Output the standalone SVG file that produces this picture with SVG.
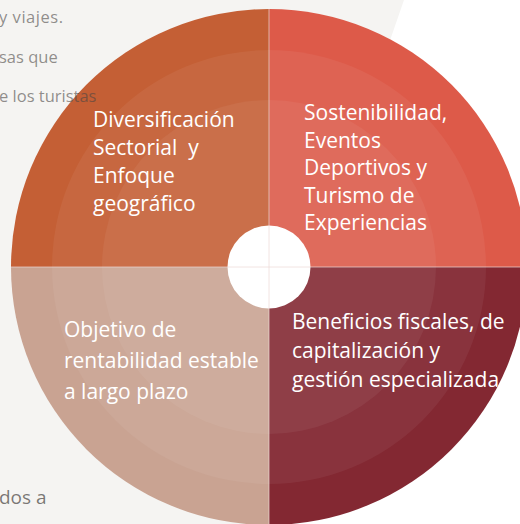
<svg xmlns="http://www.w3.org/2000/svg" width="520" height="524" viewBox="0 0 520 524">
<defs>
<style>
.bg{font-family:"Open Sans","Noto Sans",sans-serif;font-size:16.5px;fill:#4a4644;fill-opacity:0.6}
.lbl{font-family:"Open Sans","Noto Sans",sans-serif;font-size:21px;fill:#ffffff}
.ring{fill:#ffffff;fill-opacity:0.055}
.div{stroke:#ecd9d5;stroke-width:1;stroke-opacity:0.7}
</style>
<clipPath id="disc"><circle cx="269" cy="267" r="258"/></clipPath>
</defs>
<rect x="0" y="0" width="520" height="524" fill="#f5f4f2"/>
<path d="M404,0 L520,0 L520,524 L270,524 L300,300 Z" fill="#ffffff"/>
<g id="quadrant-tl">
<path d="M269,267 L11,267 A258,258 0 0 1 269,9 Z" fill="#c45f35"/>
</g>
<g id="quadrant-tr">
<path d="M269,267 L269,9 A258,258 0 0 1 527,267 Z" fill="#dd5a49"/>
</g>
<g id="quadrant-br">
<path d="M269,267 L527,267 A258,258 0 0 1 269,525 Z" fill="#832832"/>
</g>
<g id="quadrant-bl">
<path d="M269,267 L269,525 A258,258 0 0 1 11,267 Z" fill="#c9a392"/>
</g>
<g id="rings">
<circle class="ring" cx="269" cy="267" r="217"/>
<circle class="ring" cx="269" cy="267" r="167"/>
</g>
<g id="hub">
<circle cx="269" cy="267" r="41.5" fill="#ffffff"/>
</g>
<g id="connectors">
<line class="div" x1="269" y1="9" x2="269" y2="525"/>
<line class="div" x1="11" y1="267" x2="527" y2="267"/>
</g>
<g id="label-tl">
<text class="lbl" x="93" y="127">Diversificación</text>
<text class="lbl" x="93" y="155" xml:space="preserve">Sectorial  y</text>
<text class="lbl" x="93" y="183">Enfoque</text>
<text class="lbl" x="93" y="211">geográfico</text>
</g>
<g id="label-tr">
<text class="lbl" x="304" y="120">Sostenibilidad,</text>
<text class="lbl" x="304" y="147.5">Eventos</text>
<text class="lbl" x="304" y="175">Deportivos y</text>
<text class="lbl" x="304" y="202.5">Turismo de</text>
<text class="lbl" x="304" y="230">Experiencias</text>
</g>
<g id="label-br" clip-path="url(#disc)">
<text class="lbl" x="292" y="329">Beneficios fiscales, de</text>
<text class="lbl" x="292" y="358">capitalización y</text>
<text class="lbl" x="292" y="387">gestión especializada</text>
</g>
<g id="label-bl">
<text class="lbl" x="64" y="337">Objetivo de</text>
<text class="lbl" x="64" y="368">rentabilidad estable</text>
<text class="lbl" x="64" y="399">a largo plazo</text>
</g>
<g id="background-text">
<text class="bg" x="-1" y="23" textLength="64" lengthAdjust="spacing">y viajes.</text>
<text class="bg" x="-1" y="63">sas que</text>
<text class="bg" x="-1" y="102">e los turistas</text>
<text class="bg" x="-1" y="504" style="font-size:19px;fill-opacity:0.72">dos a</text>
</g>
</svg>
